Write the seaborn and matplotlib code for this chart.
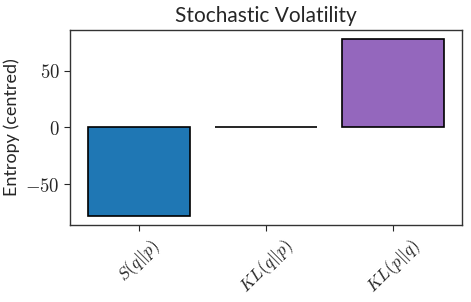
import matplotlib
matplotlib.use("Agg")
import matplotlib.pyplot as plt
import seaborn as sns
import pandas as pd

# Centred entropy estimates for the stochastic volatility model
labels = [r"$S(q||p)$", r"$KL(q||p)$", r"$KL(p||q)$"]
values = [-78.5, 0.6, 78.0]
colors = ["#1f77b4", "#ff7f0e", "#9467bd"]

sns.set_style("white")
plt.rcParams["font.family"] = ["Lato", "DejaVu Sans"]
plt.rcParams["mathtext.fontset"] = "cm"

df = pd.DataFrame({"measure": labels, "entropy": values})

fig, ax = plt.subplots(figsize=(4.71, 3.02), dpi=100)

sns.barplot(
    data=df,
    x="measure",
    y="entropy",
    hue="measure",
    palette=colors,
    edgecolor="black",
    linewidth=1.2,
    saturation=1,
    width=0.8,
    legend=False,
    ax=ax
)

ax.set_title("Stochastic Volatility", fontsize=15)
ax.set_ylabel("Entropy (centred)", fontsize=13)
ax.set_xlabel("")
ax.set_yticks([-50, 0, 50])
ax.set_yticklabels([r"$-50$", r"$0$", r"$50$"], fontsize=13.5)
ax.tick_params(axis="x", labelsize=12.5, rotation=45, length=4, width=0.8, bottom=True)
ax.tick_params(axis="y", length=4, width=0.8, left=True)
ax.set_xlim(-0.54, 2.54)
ax.set_ylim(-86, 86)
for spine in ax.spines.values():
    spine.set_color("#333333")
    spine.set_linewidth(1.0)

fig.subplots_adjust(left=0.149, right=0.981, top=0.901, bottom=0.255)
fig.savefig("out.png", dpi=100)
